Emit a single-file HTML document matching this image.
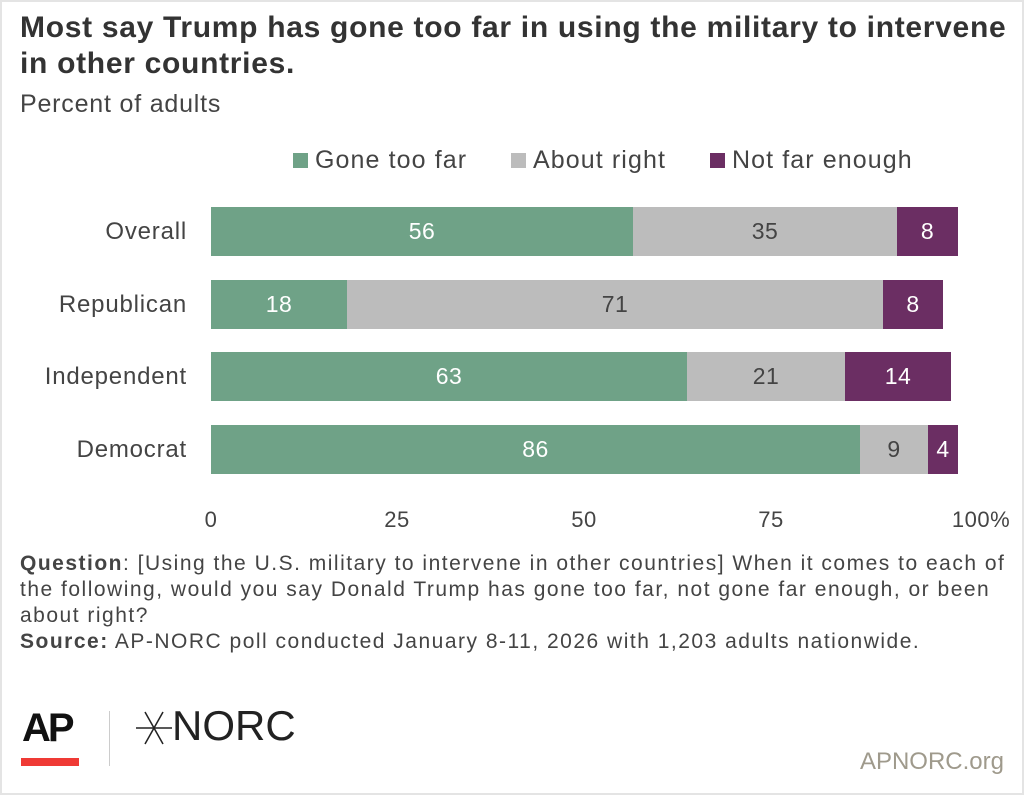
<!DOCTYPE html>
<html><head><style>
body{margin:0;width:1024px;height:795px;background:#fff;font-family:"Liberation Sans",sans-serif;position:relative;overflow:hidden}
.a{position:absolute;white-space:nowrap}
.bar{position:absolute;height:49px;color:#fff;font-size:23px;letter-spacing:0.5px;line-height:49px;text-align:center}
.g{background:#6fa287}.y{background:#bcbcbc;color:#444}.p{background:#6b2e63}
.lab{position:absolute;right:837px;font-size:24px;letter-spacing:0.8px;color:#444;line-height:49px}
.t{position:absolute;top:507px;font-size:22px;letter-spacing:0.5px;color:#444;transform:translateX(-50%)}
.lg{position:absolute;top:146px;font-size:25px;letter-spacing:1.1px;color:#444;white-space:nowrap}
.lg span{display:inline-block;width:15px;height:15px;margin-right:7px}
</style></head><body>
<div style="position:absolute;inset:0;border:2px solid #e4e4e4;box-sizing:border-box"></div>
<div class="a" style="left:20px;top:10px;font-size:30px;letter-spacing:0.7px;font-weight:bold;color:#333;line-height:36px">Most say Trump has gone too far in using the military to intervene<br>in other countries.</div>
<div class="a" style="left:20px;top:90px;font-size:25px;letter-spacing:0.8px;color:#444">Percent of adults</div>
<div class="lg" style="left:293px"><span style="background:#6fa287"></span>Gone too far</div>
<div class="lg" style="left:511px"><span style="background:#bcbcbc"></span>About right</div>
<div class="lg" style="left:710px"><span style="background:#6b2e63"></span>Not far enough</div>

<div class="lab" style="top:207px">Overall</div>
<div class="bar g" style="top:207px;left:211px;width:422px">56</div>
<div class="bar y" style="top:207px;left:633px;width:264px">35</div>
<div class="bar p" style="top:207px;left:897px;width:61px">8</div>

<div class="lab" style="top:280px">Republican</div>
<div class="bar g" style="top:280px;left:211px;width:136px">18</div>
<div class="bar y" style="top:280px;left:347px;width:536px">71</div>
<div class="bar p" style="top:280px;left:883px;width:60px">8</div>

<div class="lab" style="top:352px">Independent</div>
<div class="bar g" style="top:352px;left:211px;width:476px">63</div>
<div class="bar y" style="top:352px;left:687px;width:158px">21</div>
<div class="bar p" style="top:352px;left:845px;width:106px">14</div>

<div class="lab" style="top:425px">Democrat</div>
<div class="bar g" style="top:425px;left:211px;width:649px">86</div>
<div class="bar y" style="top:425px;left:860px;width:68px">9</div>
<div class="bar p" style="top:425px;left:928px;width:30px">4</div>

<div class="t" style="left:211px">0</div>
<div class="t" style="left:397px">25</div>
<div class="t" style="left:584px">50</div>
<div class="t" style="left:771px">75</div>
<div class="t" style="left:981px">100%</div>

<div class="a" style="left:20px;top:551px;font-size:21px;letter-spacing:1.5px;color:#444;line-height:26px">
<b>Question</b>: [Using the U.S. military to intervene in other countries] When it comes to each of<br>the following, would you say Donald Trump has gone too far, not gone far enough, or been<br>about right?<br><b>Source:</b> AP-NORC poll conducted January 8-11, 2026 with 1,203 adults nationwide.</div>

<div class="a" style="left:22px;top:706px;font-size:40px;font-weight:bold;color:#111;letter-spacing:-3px">AP</div>
<div style="position:absolute;left:21px;top:758px;width:58px;height:8px;background:#ef3a35"></div>
<div style="position:absolute;left:109px;top:711px;width:1px;height:55px;background:#ccc"></div>
<svg style="position:absolute;left:136px;top:710px" width="36" height="36" viewBox="0 0 36 36"><g stroke="#222" stroke-width="1.5"><line x1="0" y1="18" x2="36" y2="18"/><line x1="9" y1="2" x2="27" y2="34"/><line x1="27" y1="2" x2="9" y2="34"/></g></svg>
<div class="a" style="left:172px;top:702px;font-size:42px;color:#222">NORC</div>
<div class="a" style="right:20px;top:748px;font-size:24px;color:#9f9a8c">APNORC.org</div>
</body></html>
